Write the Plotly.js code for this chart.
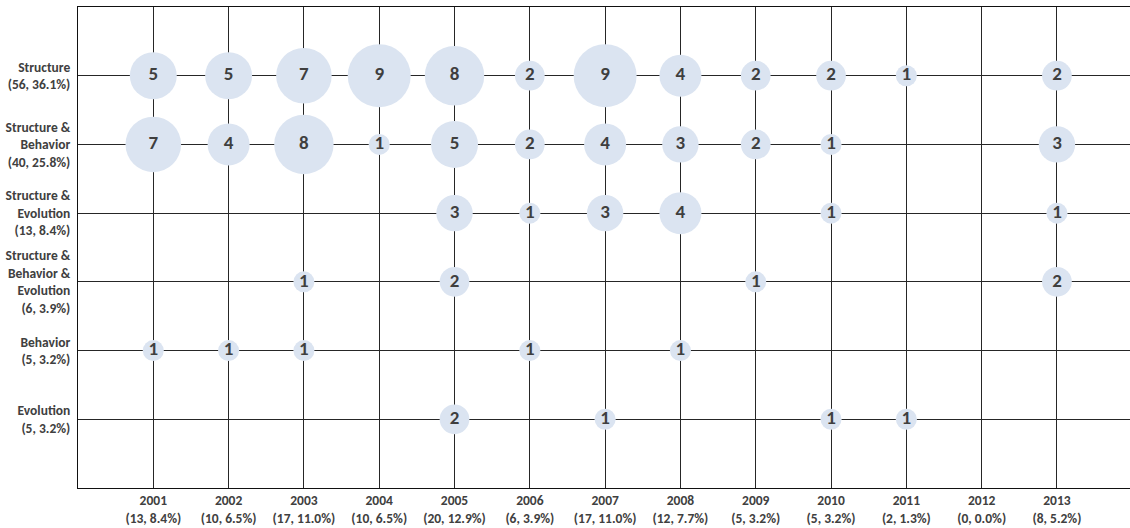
<!DOCTYPE html>
<html>
<head>
<meta charset="utf-8">
<script src="https://cdn.plot.ly/plotly-3.0.1.min.js"></script>
<style>html,body{margin:0;padding:0;background:#fff;}#chart{width:1130px;height:528px;}</style>
</head>
<body>
<div id="chart"></div>
<script>
var years = [2001, 2002, 2003, 2004, 2005, 2006, 2007, 2008, 2009, 2010, 2011, 2012, 2013];
var yearLabels = ["(13, 8.4%)", "(10, 6.5%)", "(17, 11.0%)", "(10, 6.5%)", "(20, 12.9%)", "(6, 3.9%)", "(17, 11.0%)", "(12, 7.7%)", "(5, 3.2%)", "(5, 3.2%)", "(2, 1.3%)", "(0, 0.0%)", "(8, 5.2%)"];
var categories = ["Structure", "Structure & Behavior", "Structure & Evolution", "Structure & Behavior & Evolution", "Behavior", "Evolution"];
var categoryLabels = ["Structure<br>(56, 36.1%)", "Structure &<br>Behavior<br>(40, 25.8%)", "Structure &<br>Evolution<br>(13, 8.4%)", "Structure &<br>Behavior &<br>Evolution<br>(6, 3.9%)", "Behavior<br>(5, 3.2%)", "Evolution<br>(5, 3.2%)"];
// counts per category, per year (2001..2013)
var structure = [5, 5, 7, 9, 8, 2, 9, 4, 2, 2, 1, 0, 2];
var structureBehavior = [7, 4, 8, 1, 5, 2, 4, 3, 2, 1, 0, 0, 3];
var structureEvolution = [0, 0, 0, 0, 3, 1, 3, 4, 0, 1, 0, 0, 1];
var structureBehaviorEvolution = [0, 0, 1, 0, 2, 0, 0, 0, 1, 0, 0, 0, 2];
var behavior = [1, 1, 1, 0, 0, 1, 0, 1, 0, 0, 0, 0, 0];
var evolution = [0, 0, 0, 0, 2, 0, 1, 0, 0, 1, 1, 0, 0];

var series = [structure, structureBehavior, structureEvolution, structureBehaviorEvolution, behavior, evolution];
var font = "Carlito, 'Liberation Sans Narrow', 'Liberation Sans', sans-serif";
var xs = [], ys = [], vals = [];
series.forEach(function (row, ri) {
  row.forEach(function (v, ci) {
    if (v > 0) { xs.push(years[ci]); ys.push(categories.length - ri); vals.push(v); }
  });
});
var trace = {
  type: 'scatter', mode: 'markers+text',
  x: xs, y: ys,
  text: vals.map(function (v) { return '<b>' + v + '</b>'; }),
  textposition: 'middle center',
  textfont: {family: font, size: 19, color: '#3f3f3f'},
  marker: {size: vals.map(function (v) { return 21 * Math.sqrt(v); }), color: '#dbe4f1', line: {width: 0}, opacity: 1},
  hoverinfo: 'none', cliponaxis: false
};
var layout = {
  width: 1130, height: 528,
  margin: {l: 78, r: 0, t: 7, b: 40},
  paper_bgcolor: '#ffffff', plot_bgcolor: '#ffffff',
  showlegend: false,
  font: {family: font, size: 13.5, color: '#404040'},
  xaxis: {
    range: [2000, 2013.97], tickvals: years,
    ticktext: years.map(function (y, i) { return '<b>' + y + '</b><br><b>' + yearLabels[i] + '</b>'; }),
    showgrid: true, gridcolor: '#262626', gridwidth: 1,
    showline: true, linecolor: '#111111', linewidth: 1, mirror: true,
    zeroline: false, ticks: '', tickfont: {family: font, size: 13.5, color: '#404040'}
  },
  yaxis: {
    range: [0, 7], tickvals: [6, 5, 4, 3, 2, 1],
    ticktext: categoryLabels.map(function (s) { return s.split('<br>').map(function (p) { return '<b>' + p + '</b>'; }).join('<br>'); }),
    showgrid: true, gridcolor: '#262626', gridwidth: 1,
    showline: true, linecolor: '#111111', linewidth: 1, mirror: false,
    zeroline: false, ticks: '', ticklabelstandoff: 4, tickfont: {family: font, size: 13.5, color: '#404040'}
  }
};
Plotly.newPlot('chart', [trace], layout, {displayModeBar: false, staticPlot: true});
</script>
</body>
</html>
